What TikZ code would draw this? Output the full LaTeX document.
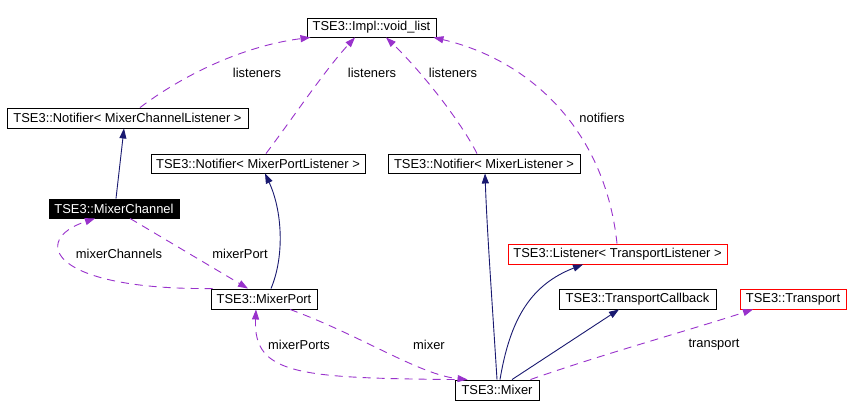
\documentclass[tikz,border=0pt]{standalone}
\usepackage{fontspec}
\setmainfont{Liberation Sans}
\usetikzlibrary{arrows.meta,calc}
\definecolor{edgepurple}{RGB}{153,50,204}
\definecolor{edgenavy}{RGB}{25,25,112}
\begin{document}
\begin{tikzpicture}[x=1pt,y=-1pt,
  font=\fontsize{12.9}{15}\selectfont,
  box/.style={draw=black, line width=0.9pt, fill=white, inner sep=0pt, minimum height=20pt},
  redbox/.style={box, draw=red},
  inh/.style={draw=edgenavy, line width=0.9pt, -{Triangle[length=10pt,width=7pt]}},
  use/.style={draw=edgepurple, line width=0.9pt, dash pattern=on 8pt off 6pt, -{Triangle[length=10pt,width=7pt]}},
  lbl/.style={inner sep=0pt}]
\fill[white] (0,0) rectangle (861,417);
\useasboundingbox (0,0) rectangle (861,417);
% nodes
\node[box, minimum width=129pt, minimum height=19pt] (vl) at (371.5,27.5) {TSE3::Impl::void\_list};
\node[box, minimum width=241pt] (ncl) at (127.5,118) {TSE3::Notifier< MixerChannelListener >};
\node[box, minimum width=214pt, minimum height=19pt] (npl) at (258,163.5) {TSE3::Notifier< MixerPortListener >};
\node[box, minimum width=192pt, minimum height=19pt] (nml) at (484,163.5) {TSE3::Notifier< MixerListener >};
\node[box, fill=black, text=white, minimum width=130pt, minimum height=19pt] (mc) at (114,208.5) {TSE3::MixerChannel};
\node[box, minimum width=106pt] (mp) at (264,299) {TSE3::MixerPort};
\node[box, minimum width=84pt] (mx) at (497,390) {TSE3::Mixer};
\node[redbox, minimum width=219pt] (ltl) at (617.5,254) {TSE3::Listener< TransportListener >};
\node[box, minimum width=157pt] (tc) at (637.5,299) {TSE3::TransportCallback};
\node[redbox, minimum width=106pt] (tr) at (793,299) {TSE3::Transport};
% usage edges to void_list
\draw[use] ($(ncl.north)+(12.5,0)$) .. controls (190,70) and (250,45) .. ($(vl.south)+(-61,0)$);
\draw[use] ($(npl.north)+(8,0)$) .. controls (295,115) and (325,70) .. ($(vl.south)+(-16.5,0)$);
\draw[use] ($(nml.north)+(-7,0)$) .. controls (460,120) and (420,70) .. ($(vl.south)+(14.5,0)$);
\draw[use] ($(ltl.north)+(-0.5,0)$) .. controls (605,130) and (530,60) .. ($(vl.south east)+(-3,0)$);
% inheritance edges
\draw[inh] ($(mc.north)+(2,0)$) -- ($(ncl.south)+(-3.5,0)$);
\draw[inh] ($(mp.north)+(7,0)$) .. controls (285,255) and (282,210) .. ($(npl.south)+(7,0)$);
\draw[inh] (mx.north) .. controls (492,300) and (487,230) .. ($(nml.south)+(1,0)$);
\draw[inh] ($(mx.north)+(3,0)$) .. controls (510,320) and (530,285) .. ($(ltl.south)+(-34.5,0)$);
\draw[inh] ($(mx.north)+(15,0)$) -- ($(tc.south)+(-18.5,0)$);
% other usage edges
\draw[use] ($(mx.north east)+(-9,0)$) .. controls (600,355) and (690,330) .. ($(tr.south)+(-40,0)$);
\draw[use] ($(mc.south)+(16,0)$) -- ($(mp.north)+(-16,0)$);
\draw[use] ($(mp.north west)+(2,0)$) .. controls (50,290) and (30,240) .. ($(mc.south)+(-19,0)$);
\draw[use] ($(mp.south)+(26,0)$) .. controls (360,335) and (420,375) .. ($(mx.north west)+(13,0)$);
\draw[use] (mx.north west) .. controls (300,378) and (253,375) .. ($(mp.south)+(-8,0)$);
% labels
\node[lbl] (l1) at (257,73) {listeners};
\node[lbl] (l2) at (372,73) {listeners};
\node[lbl] (l3) at (453,73) {listeners};
\node[lbl] (l4) at (602,118) {notifiers};
\node[lbl] (l5) at (119,254) {mixerChannels};
\node[lbl] (l6) at (240,254) {mixerPort};
\node[lbl] (l7) at (299,345) {mixerPorts};
\node[lbl] (l8) at (429,345) {mixer};
\node[lbl] (l9) at (714,345) {transport};
\end{tikzpicture}
\end{document}
